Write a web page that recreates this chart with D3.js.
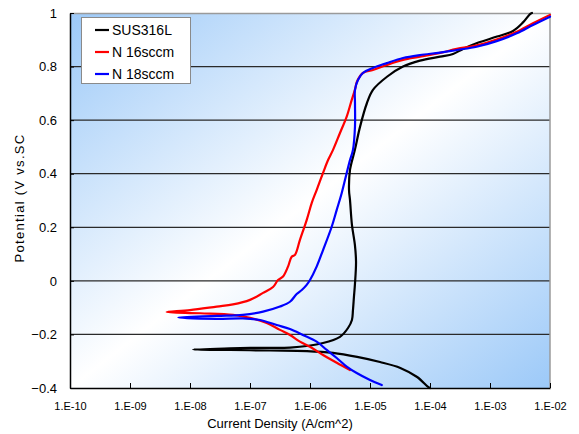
<!DOCTYPE html>
<html>
<head>
<meta charset="utf-8">
<script src="https://cdn.jsdelivr.net/npm/d3@7"></script>
<style>
    body { margin: 0; background: #ffffff; }
    #chart { width: 579px; height: 434px; }
    text { font-family: "Liberation Sans", Arial, sans-serif; fill: #000000; }
</style>
</head>
<body>
<div id="chart"></div>
<script>
// Polarization curves, current density (A/cm^2) and potential (V)
const seriesNames = ["SUS316L", "N 16sccm", "N 18sccm"];
const seriesColors = ["#000000", "#ff0000", "#0000ff"];

const susCurrent = [1.0e-4, 9.3e-5, 6.1e-5, 3.2e-5, 1.47e-5, 6.1e-6, 2.42e-6, 8.9e-7, 2.15e-7, 4.64e-8, 1.12e-8,
    4.64e-8, 1.47e-7, 4.64e-7, 1.65e-6, 3.16e-6, 4.3e-6, 5.0e-6, 5.2e-6, 5.4e-6, 5.6e-6, 5.85e-6, 5.6e-6, 5.0e-6,
    4.64e-6, 4.47e-6, 4.64e-6, 5.6e-6, 6.8e-6, 8.9e-6, 1.12e-5, 1.92e-5, 3.55e-5, 6.8e-5, 1.47e-4, 2.42e-4, 3.55e-4,
    6.1e-4, 1.31e-3, 2.42e-3, 3.55e-3, 4.64e-3, 5.0e-3];
const susPotential = [-0.400, -0.396, -0.359, -0.325, -0.303, -0.284, -0.269, -0.262, -0.260, -0.258, -0.256,
    -0.252, -0.250, -0.249, -0.232, -0.209, -0.176, -0.146, -0.109, -0.060, -0.015, 0.071, 0.134, 0.209,
    0.302, 0.339, 0.414, 0.489, 0.574, 0.664, 0.713, 0.762, 0.800, 0.822, 0.837, 0.847, 0.866,
    0.888, 0.912, 0.933, 0.965, 0.996, 1.0];

const n16Current = [4.64e-6, 2.79e-6, 1.65e-6, 1.0e-6, 6.8e-7, 4.64e-7, 3.16e-7, 1.9e-7, 1.0e-7, 5.2e-8, 1.47e-8, 4.07e-9,
    1.0e-8, 2.79e-8, 5.2e-8, 1.0e-7, 1.65e-7, 2.42e-7, 2.93e-7, 3.55e-7, 4.3e-7, 4.95e-7, 5.62e-7, 6.8e-7, 8.8e-7,
    1.07e-6, 1.29e-6, 1.65e-6, 2.0e-6, 2.42e-6, 3.16e-6, 4.09e-6, 4.95e-6, 5.6e-6, 6.07e-6, 7.6e-6, 1.12e-5, 1.9e-5,
    3.55e-5, 6.8e-5, 1.47e-4, 2.79e-4, 6.0e-4, 1.29e-3, 2.79e-3, 5.2e-3, 1.0e-2];
const n16Potential = [-0.333, -0.306, -0.277, -0.246, -0.227, -0.202, -0.183, -0.157, -0.138, -0.127, -0.121, -0.116,
    -0.109, -0.096, -0.088, -0.071, -0.045, -0.023, 0.003, 0.016, 0.053, 0.090, 0.097, 0.153, 0.227,
    0.291, 0.339, 0.403, 0.451, 0.489, 0.552, 0.613, 0.675, 0.713, 0.744, 0.776, 0.787, 0.806,
    0.825, 0.837, 0.851, 0.866, 0.879, 0.901, 0.930, 0.962, 0.993];

const n18Current = [1.57e-5, 1.0e-5, 6.0e-6, 4.09e-6, 2.79e-6, 1.9e-6, 1.29e-6, 7.6e-7, 4.64e-7, 2.79e-7, 1.47e-7, 7.6e-8,
    2.79e-8, 6.4e-9, 2.79e-8, 7.6e-8, 1.65e-7, 3.16e-7, 4.64e-7, 6.0e-7, 7.3e-7, 8.8e-7, 1.0e-6, 1.29e-6, 1.65e-6,
    2.3e-6, 2.79e-6, 3.38e-6, 4.09e-6, 4.64e-6, 5.2e-6, 5.62e-6, 5.62e-6, 5.62e-6, 6.3e-6, 7.6e-6, 1.12e-5, 1.9e-5,
    3.55e-5, 6.8e-5, 1.47e-4, 2.79e-4, 6.0e-4, 1.29e-3, 2.79e-3, 5.2e-3, 1.0e-2];
const n18Potential = [-0.389, -0.370, -0.344, -0.320, -0.288, -0.258, -0.227, -0.202, -0.180, -0.165, -0.146, -0.140,
    -0.142, -0.137, -0.131, -0.127, -0.115, -0.096, -0.078, -0.049, -0.034, -0.015, 0.003, 0.053, 0.115,
    0.202, 0.265, 0.328, 0.403, 0.451, 0.489, 0.576, 0.664, 0.713, 0.750, 0.776, 0.795, 0.813,
    0.832, 0.843, 0.852, 0.862, 0.874, 0.895, 0.924, 0.955, 0.986];

const xTickValues = [1e-10, 1e-9, 1e-8, 1e-7, 1e-6, 1e-5, 1e-4, 1e-3, 1e-2];
const xTickLabels = ["1.E-10", "1.E-09", "1.E-08", "1.E-07", "1.E-06", "1.E-05", "1.E-04", "1.E-03", "1.E-02"];
const yTickValues = [-0.4, -0.2, 0, 0.2, 0.4, 0.6, 0.8, 1];
const yTickLabels = ["\u22120.4", "\u22120.2", "0", "0.2", "0.4", "0.6", "0.8", "1"];

class PolarizationChart {
    constructor(parentElement) {
        this.parentElement = parentElement;
        this.initVis();
    }

    initVis() {
        let vis = this;

        vis.margin = {top: 13, right: 29, bottom: 46, left: 70};
        vis.width = 579 - vis.margin.left - vis.margin.right;
        vis.height = 434 - vis.margin.top - vis.margin.bottom;

        vis.svg = d3.select("#" + vis.parentElement).append("svg")
            .attr("width", 579)
            .attr("height", 434);

        // Diagonal blue - white - blue background
        let grad = vis.svg.append("defs").append("linearGradient")
            .attr("id", "bgGrad")
            .attr("x1", 0).attr("y1", 0)
            .attr("x2", 1).attr("y2", 1);
        grad.append("stop").attr("offset", "0%").attr("stop-color", "#9cc9f8");
        grad.append("stop").attr("offset", "50%").attr("stop-color", "#ffffff");
        grad.append("stop").attr("offset", "100%").attr("stop-color", "#9cc9f8");

        vis.g = vis.svg.append("g")
            .attr("transform", `translate(${vis.margin.left}, ${vis.margin.top})`);

        vis.g.append("rect")
            .attr("width", vis.width)
            .attr("height", vis.height)
            .attr("fill", "url(#bgGrad)");

        // Scales
        vis.xScale = d3.scaleLog()
            .domain([1e-10, 1e-2])
            .range([0, vis.width]);

        vis.yScale = d3.scaleLinear()
            .domain([-0.4, 1])
            .range([vis.height, 0]);

        // Gridlines
        vis.g.append("g")
            .selectAll("line")
            .data(yTickValues.filter(d => d > -0.4 && d < 1))
            .enter().append("line")
            .attr("x1", 0)
            .attr("x2", vis.width)
            .attr("y1", d => vis.yScale(d))
            .attr("y2", d => vis.yScale(d))
            .attr("stroke", "#2a2a2a")
            .attr("stroke-width", 1.2);

        // Top and right border
        vis.g.append("path")
            .attr("d", `M0,0.5H${vis.width}V${vis.height}`)
            .attr("fill", "none")
            .attr("stroke", "#9a9a9a")
            .attr("stroke-width", 1.5);

        // X Axis
        vis.xAxis = d3.axisBottom(vis.xScale)
            .tickValues(xTickValues)
            .tickSizeInner(-5)
            .tickSizeOuter(0)
            .tickPadding(14)
            .tickFormat((d, i) => xTickLabels[i]);

        vis.g.append("g")
            .attr("class", "x-axis")
            .attr("transform", `translate(0, ${vis.height})`)
            .call(vis.xAxis)
            .call(g => g.select(".domain").attr("stroke", "#000").attr("stroke-width", 1.5))
            .selectAll("text")
            .style("font-size", "11px")
            .style("fill", "#000");

        // Y Axis
        vis.yAxis = d3.axisLeft(vis.yScale)
            .tickValues(yTickValues)
            .tickSizeInner(-4)
            .tickSizeOuter(0)
            .tickPadding(13)
            .tickFormat((d, i) => yTickLabels[i]);

        vis.g.append("g")
            .attr("class", "y-axis")
            .call(vis.yAxis)
            .call(g => g.select(".domain").attr("stroke", "#000").attr("stroke-width", 1.5))
            .selectAll("text")
            .style("font-size", "13px")
            .style("fill", "#000");

        // X axis title
        vis.svg.append("text")
            .attr("x", 280)
            .attr("y", 428)
            .style("text-anchor", "middle")
            .style("font-size", "13px")
            .text("Current Density (A/cm^2)");

        // Y axis title
        vis.svg.append("text")
            .attr("transform", "translate(24, 198) rotate(-90)")
            .style("text-anchor", "middle")
            .style("font-size", "13px")
            .style("letter-spacing", "1.3px")
            .text("Potential (V vs.SC");

        vis.line = d3.line()
            .curve(d3.curveCatmullRom.alpha(0.5))
            .x(d => vis.xScale(d[0]))
            .y(d => vis.yScale(d[1]));

        vis.wrangleData();
        vis.drawLegend();
    }

    wrangleData() {
        let vis = this;

        let pairs = (xs, ys) => xs.map((x, i) => [x, ys[i]]);
        vis.displayData = [
            pairs(susCurrent, susPotential),
            pairs(n16Current, n16Potential),
            pairs(n18Current, n18Potential)
        ];

        vis.updateVis();
    }

    updateVis() {
        let vis = this;

        vis.g.selectAll(".curve")
            .data(vis.displayData)
            .enter().append("path")
            .attr("class", "curve")
            .attr("d", vis.line)
            .attr("fill", "none")
            .attr("stroke", (d, i) => seriesColors[i])
            .attr("stroke-width", 2.2)
            .attr("stroke-linejoin", "round")
            .attr("stroke-linecap", "round");
    }

    drawLegend() {
        let vis = this;

        let legend = vis.svg.append("g")
            .attr("class", "legend")
            .attr("transform", "translate(81, 17)");

        legend.append("rect")
            .attr("x", 0.5)
            .attr("y", 0.5)
            .attr("width", 109)
            .attr("height", 66)
            .attr("fill", "#ffffff")
            .attr("stroke", "#8a8a8a")
            .attr("stroke-width", 1);

        let rows = legend.selectAll(".legend-row")
            .data(seriesNames)
            .enter().append("g")
            .attr("class", "legend-row")
            .attr("transform", (d, i) => `translate(0, ${13 + i * 22})`);

        rows.append("line")
            .attr("x1", 14)
            .attr("x2", 28)
            .attr("stroke", (d, i) => seriesColors[i])
            .attr("stroke-width", 2.2);

        rows.append("text")
            .attr("x", 31)
            .attr("dy", "0.35em")
            .style("font-size", "14px")
            .text(d => d);
    }
}

new PolarizationChart("chart");
</script>
</body>
</html>
